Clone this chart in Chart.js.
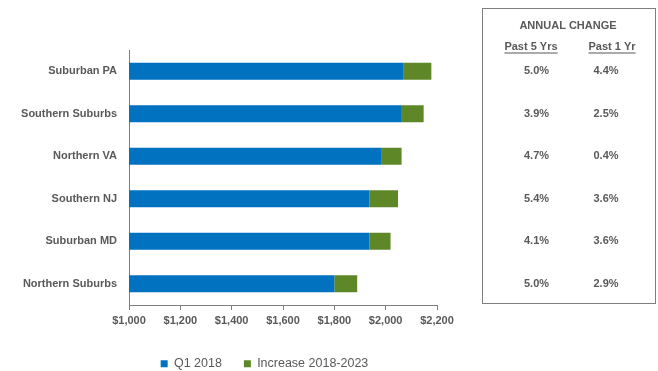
<!DOCTYPE html>
<html>
<head>
<meta charset="utf-8">
<title>Rent by submarket</title>
<script src="https://cdn.jsdelivr.net/npm/chart.js@4.4.1/dist/chart.umd.min.js"></script>
<style>
  body { margin: 0; background: #fff; }
  #rentChart { display: block; }
</style>
</head>
<body>
<canvas id="rentChart" width="658" height="371"></canvas>
<script>
var submarkets = ['Suburban PA', 'Southern Suburbs', 'Northern VA', 'Southern NJ', 'Suburban MD', 'Northern Suburbs'];
var q1Rent = [2068, 2063, 1982, 1937, 1937, 1800];
var increase = [110, 85, 80, 111, 82, 89];
var pastFiveYrs = ['5.0%', '3.9%', '4.7%', '5.4%', '4.1%', '5.0%'];
var pastOneYr = ['4.4%', '2.5%', '0.4%', '3.6%', '3.6%', '2.9%'];
var xTicks = [1000, 1200, 1400, 1600, 1800, 2000, 2200];

var sans = "'Liberation Sans', Arial, sans-serif";
var grey = '#595959';

// side table "ANNUAL CHANGE", rows lined up with the bars
var annualTable = {
	id: 'annualTable',
	afterLayout: function(chart) {
		// legend sits a bit right of the plot's centre in the original
		chart.legend.left = 92;
	},
	afterDraw: function(chart) {
		var ctx = chart.ctx;
		var y = chart.scales.y;
		ctx.save();
		ctx.strokeStyle = '#7f7f7f';
		ctx.lineWidth = 1;
		ctx.strokeRect(482.5, 8.5, 173, 295);
		ctx.fillStyle = grey;
		ctx.textAlign = 'center';
		ctx.textBaseline = 'middle';
		ctx.font = 'bold 11px ' + sans;
		ctx.fillText('ANNUAL CHANGE', 568, 26);
		[['Past 5 Yrs', 531], ['Past 1 Yr', 612]].forEach(function(h) {
			ctx.fillText(h[0], h[1], 47);
			var w = ctx.measureText(h[0]).width;
			ctx.fillRect(h[1] - w / 2, 52.5, w, 1);
		});
		submarkets.forEach(function(name, i) {
			var py = y.getPixelForValue(i);
			ctx.fillText(pastFiveYrs[i], 536.5, py);
			ctx.fillText(pastOneYr[i], 606, py);
		});
		ctx.restore();
	}
};

new Chart(document.getElementById('rentChart'), {
	type: 'bar',
	data: {
		labels: submarkets,
		datasets: [
			{
				label: 'Q1 2018',
				data: q1Rent,
				backgroundColor: '#0072C0',
				barPercentage: 0.4,
				categoryPercentage: 1
			},
			{
				label: 'Increase 2018-2023',
				data: increase,
				backgroundColor: '#5E8728',
				barPercentage: 0.4,
				categoryPercentage: 1
			}
		]
	},
	plugins: [annualTable],
	options: {
		indexAxis: 'y',
		responsive: false,
		animation: false,
		layout: { padding: { left: 0, right: 221, top: 50, bottom: -9 } },
		scales: {
			x: {
				stacked: true,
				min: 1000,
				max: 2200,
				afterBuildTicks: function(scale) {
					scale.ticks = xTicks.map(function(v) { return { value: v }; });
				},
				afterFit: function(scale) { scale.height = 30.5; },
				grid: { drawOnChartArea: false, drawTicks: true, tickLength: 5, color: '#7f7f7f' },
				border: { color: '#7f7f7f' },
				ticks: {
					padding: 4.5,
					color: grey,
					font: { family: sans, size: 11, weight: 'bold' },
					callback: function(v) { return '$' + v.toLocaleString('en-US'); }
				}
			},
			y: {
				stacked: true,
				afterFit: function(scale) { scale.width = 129; },
				grid: { drawOnChartArea: false, drawTicks: false },
				border: { color: '#7f7f7f' },
				ticks: {
					padding: 12,
					color: grey,
					font: { family: sans, size: 11, weight: 'bold' }
				}
			}
		},
		plugins: {
			legend: {
				position: 'bottom',
				labels: {
					boxWidth: 7,
					boxHeight: 7,
					padding: 22,
					color: grey,
					font: { family: sans, size: 12.5 }
				}
			},
			tooltip: { enabled: false }
		}
	}
});
</script>
</body>
</html>
